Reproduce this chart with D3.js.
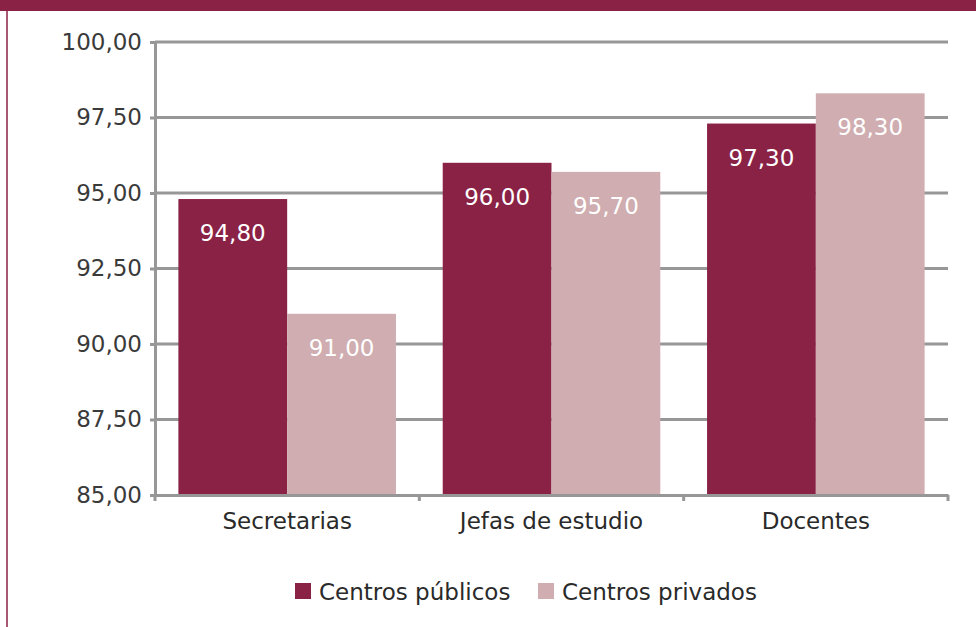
<!DOCTYPE html>
<html>
<head>
<meta charset="utf-8">
<script src="https://cdn.jsdelivr.net/npm/d3@7"></script>
<style>
  body { margin: 0; background: #fff; }
  text { font-family: "DejaVu Sans", Verdana, sans-serif; }
</style>
</head>
<body>
<script>
// datos del grafico
const categorias = ["Secretarias", "Jefas de estudio", "Docentes"];
const series = ["Centros públicos", "Centros privados"];
const publicos = [94.8, 96.0, 97.3];
const privados = [91.0, 95.7, 98.3];
const yTicks = [85, 87.5, 90, 92.5, 95, 97.5, 100];

const colores = ["#8a2246", "#cfadb0"];

const W = 976, H = 627;
const margin = { top: 42, right: 28, bottom: 132, left: 155 };
const width = W - margin.left - margin.right;
const height = H - margin.top - margin.bottom;

const svgRoot = d3.select("body").append("svg")
    .attr("width", W)
    .attr("height", H);

// banda superior y borde izquierdo
svgRoot.append("rect")
    .attr("x", 0).attr("y", 0)
    .attr("width", W).attr("height", 11)
    .attr("fill", colores[0]);
svgRoot.append("line")
    .attr("x1", 7).attr("x2", 7)
    .attr("y1", 11).attr("y2", H)
    .attr("stroke", colores[0])
    .attr("stroke-width", 1.5);

const svg = svgRoot.append("g")
    .attr("transform", "translate(" + margin.left + "," + margin.top + ")");

var xScale = d3.scaleBand()
    .domain(categorias)
    .range([0, width]);
var xInner = d3.scaleBand()
    .domain(series)
    .range([0, xScale.bandwidth()])
    .paddingOuter(0.215);
var yScale = d3.scaleLinear()
    .domain([85, 100])
    .range([height, 0]);

const fmt = v => d3.format(".2f")(v).replace(".", ",");

// lineas de cuadricula
svg.append("g")
    .selectAll("line")
    .data(yTicks.slice(1))
    .enter().append("line")
    .attr("x1", 0).attr("x2", width)
    .attr("y1", d => yScale(d)).attr("y2", d => yScale(d))
    .attr("stroke", "#979797")
    .attr("stroke-width", 3);

// eje y
let yAxis = d3.axisLeft(yScale)
    .tickValues(yTicks)
    .tickSize(5)
    .tickPadding(8)
    .tickFormat(fmt);
const gy = svg.append("g").attr("class", "y-axis").call(yAxis);
gy.select(".domain").attr("stroke", "#979797").attr("stroke-width", 3);
gy.selectAll(".tick line").attr("stroke", "#979797").attr("stroke-width", 3);
gy.selectAll(".tick text")
    .attr("font-size", "23px")
    .attr("fill", "#3a3a3a")
    .style("font-family", "DejaVu Sans");

// barras
const datos = categorias.map((c, i) => ({ cat: c, vals: [publicos[i], privados[i]] }));

const grupos = svg.selectAll(".grupo")
    .data(datos)
    .enter().append("g")
    .attr("class", "grupo")
    .attr("transform", d => "translate(" + xScale(d.cat) + ",0)");

grupos.selectAll("rect")
    .data(d => d.vals.map((v, j) => ({ s: series[j], v: v, j: j })))
    .enter().append("rect")
    .attr("x", d => xInner(d.s))
    .attr("width", xInner.bandwidth())
    .attr("y", d => yScale(d.v))
    .attr("height", d => height - yScale(d.v))
    .attr("fill", d => colores[d.j]);

grupos.selectAll(".valor")
    .data(d => d.vals.map((v, j) => ({ s: series[j], v: v, j: j })))
    .enter().append("text")
    .attr("class", "valor")
    .attr("x", d => xInner(d.s) + xInner.bandwidth() / 2)
    .attr("y", d => yScale(d.v) + 42)
    .attr("text-anchor", "middle")
    .attr("font-size", "23px")
    .attr("fill", "#fff")
    .text(d => fmt(d.v));

// eje x
let xAxis = d3.axisBottom(xScale).tickSize(0).tickPadding(18);
const gx = svg.append("g")
    .attr("class", "x-axis")
    .attr("transform", "translate(0," + height + ")")
    .call(xAxis);
gx.select(".domain").attr("stroke", "#979797").attr("stroke-width", 3);
gx.selectAll(".tick text")
    .attr("font-size", "23px")
    .attr("fill", "#2a2a2a")
    .style("font-family", "DejaVu Sans");
// marcas entre categorias
gx.selectAll(".sep")
    .data(d3.range(categorias.length + 1))
    .enter().append("line")
    .attr("class", "sep")
    .attr("x1", i => i * xScale.step()).attr("x2", i => i * xScale.step())
    .attr("y1", 0).attr("y2", 6)
    .attr("stroke", "#979797")
    .attr("stroke-width", 3);

// leyenda
const leyX = [295, 538];
const ley = svgRoot.append("g");
series.forEach((s, j) => {
    ley.append("rect")
        .attr("x", leyX[j]).attr("y", 583)
        .attr("width", 16).attr("height", 16)
        .attr("fill", colores[j]);
    ley.append("text")
        .attr("x", leyX[j] + 24).attr("y", 600)
        .attr("font-size", "23px")
        .attr("fill", "#2a2a2a")
        .text(s);
});
</script>
</body>
</html>
